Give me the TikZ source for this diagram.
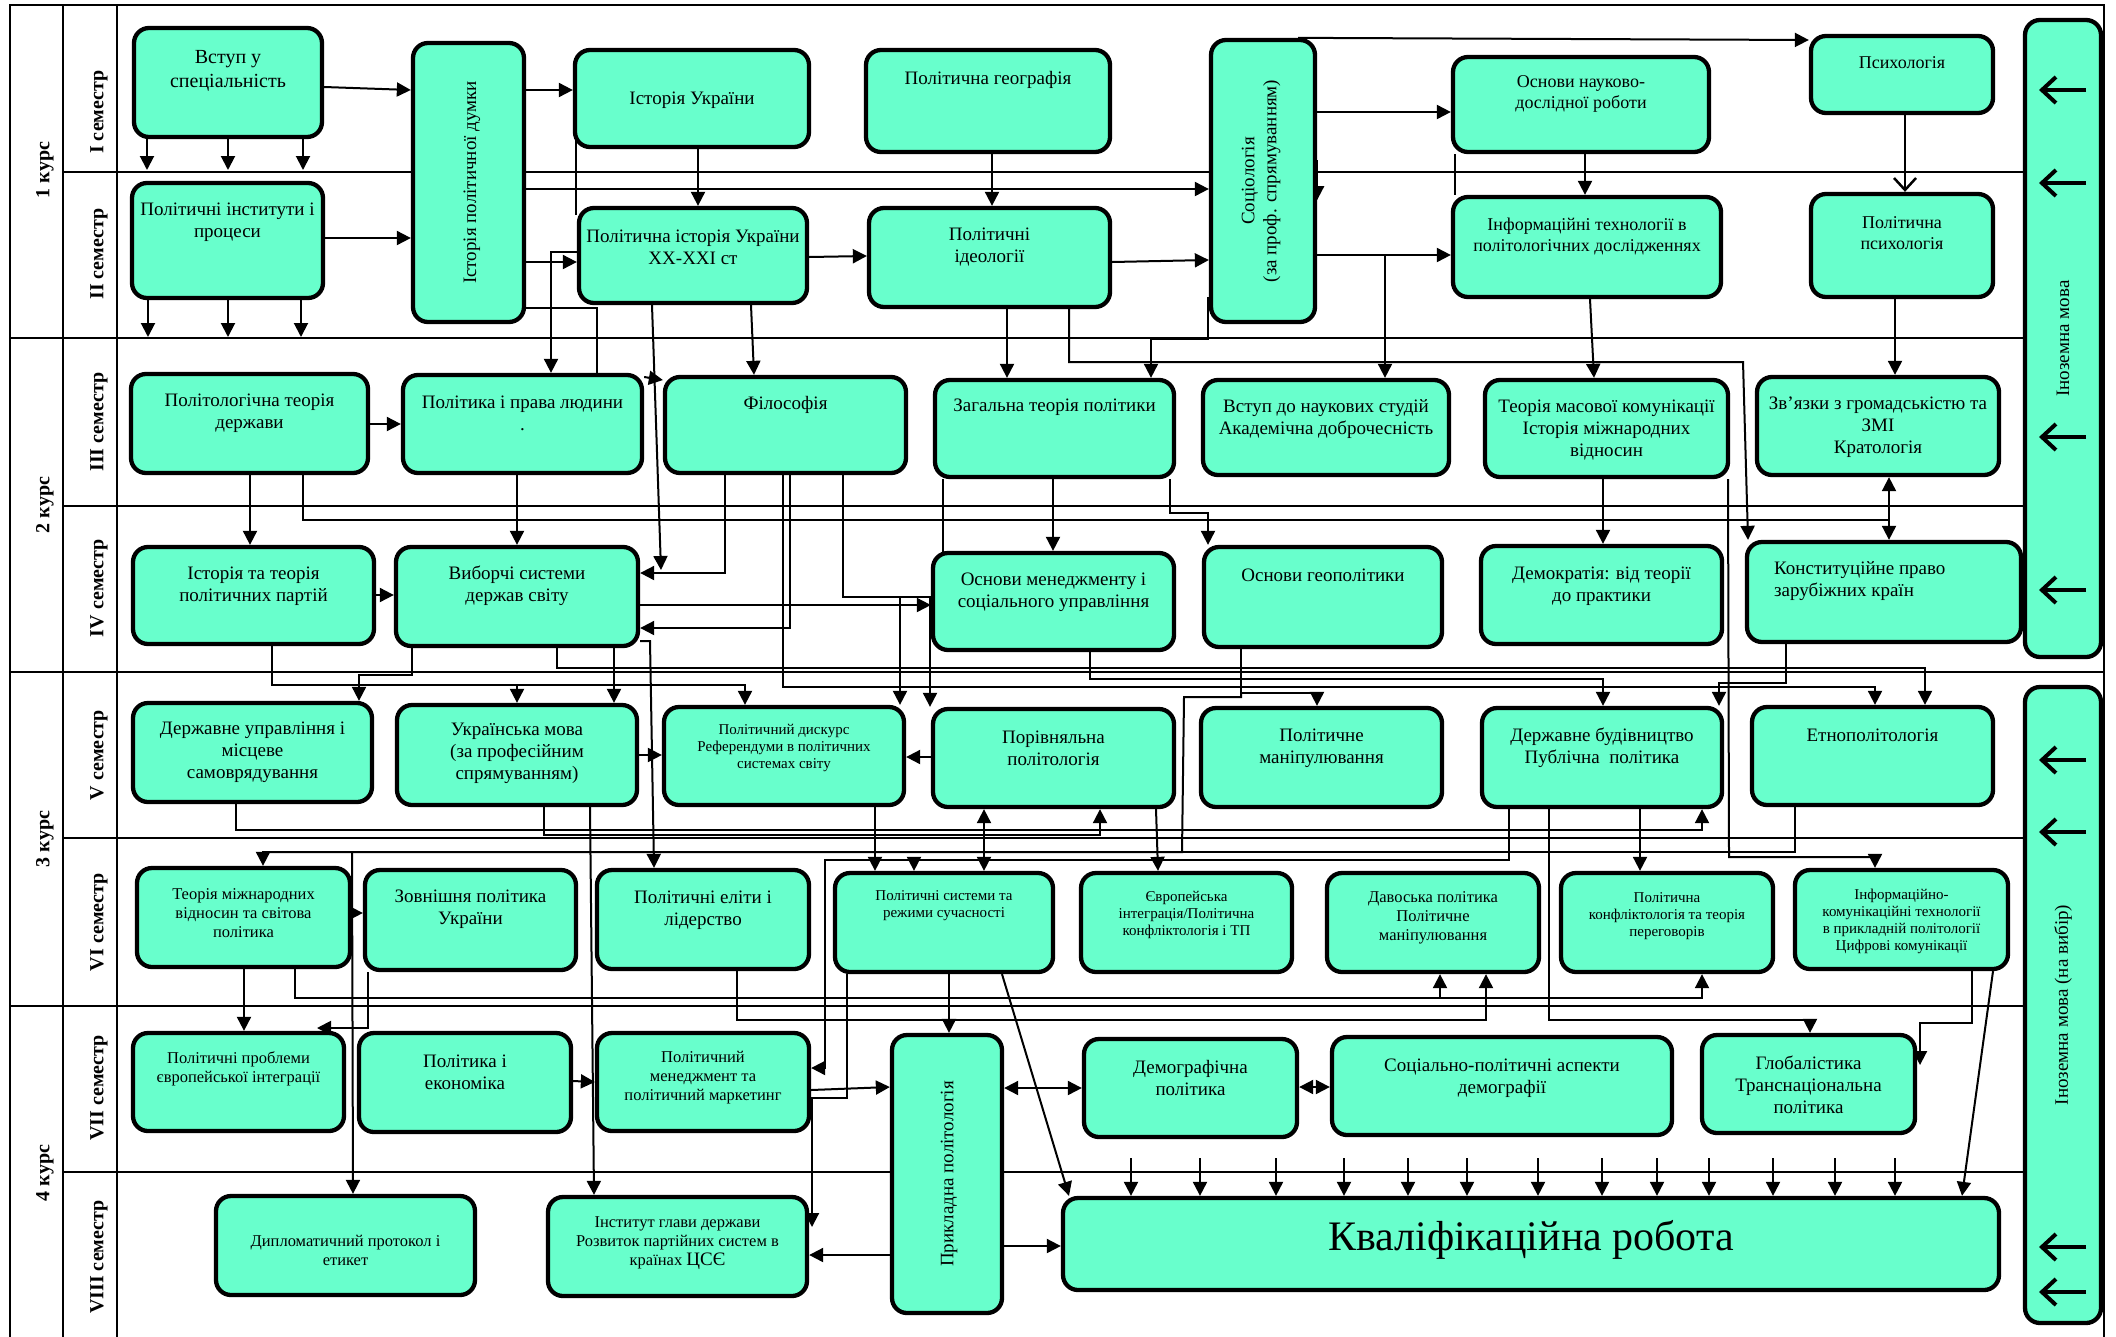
\documentclass[tikz,border=0pt]{standalone}
\usepackage{fontspec}
\setmainfont{Liberation Serif}
\usetikzlibrary{arrows.meta}
\pgfdeclarelayer{bg}
\pgfsetlayers{bg,main}
\definecolor{boxfill}{RGB}{104,255,204}
\newcommand\fA{\fontsize{20}{24}\selectfont}
\newcommand\fB{\fontsize{19}{22}\selectfont}
\newcommand\fD{\fontsize{18}{21}\selectfont}
\newcommand\fC{\fontsize{16.5}{19}\selectfont}
\newcommand\fS{\fontsize{15}{17}\selectfont}
\newcommand\fK{\fontsize{42}{48}\selectfont}
\newcommand\fL{\fontsize{20}{24}\selectfont\bfseries}
\newcommand\bx[8]{%
 \node[box,minimum width={#4-#2},minimum height={#5-#3}] (#1) at ({(#2+#4)/2},{(#3+#5)/2}) {};
 \node[txt,font=#7] (#1-t) at ({(#2+#4)/2},#6) {#8};}
\newcommand\bxr[8]{%
 \node[box,minimum width={#4-#2},minimum height={#5-#3}] (#1) at ({(#2+#4)/2},{(#3+#5)/2}) {};
 \node[txt,font=#7,rotate=90] (#1-t) at (#6,{(#3+#5)/2}) {#8};}
\tikzset{
 box/.style={draw=black,line width=4.3pt,fill=boxfill,rounded corners=15pt,inner sep=0pt},
 txt/.style={align=center,inner sep=0pt},
 ln/.style={line width=2pt},
 arr/.style={line width=2pt,-{Triangle[length=14pt,width=14pt]}},
 darr/.style={line width=2pt,{Triangle[length=14pt,width=14pt]}-{Triangle[length=14pt,width=14pt]}},
 oarr/.style={line width=2.5pt,-{Straight Barb[length=12pt,width=22pt]}},
 barr/.style={line width=4pt,-{Straight Barb[length=14pt,width=26pt]}},
 frame/.style={line width=2pt},
 lab/.style={font=\fL,inner sep=0pt,rotate=90}
}
\begin{document}
\begin{tikzpicture}[x=1pt,y=-1pt]
\useasboundingbox (0,0) rectangle (2116,1336);
\clip (0,0) rectangle (2116,1336);
% ---------- boxes ----------
\bx{vst}{134}{28}{322}{137}{71}{\fA}{Вступ у\\спеціальність}
\bx{pip}{132}{183}{323}{298}{222}{\fB}{Політичні інститути і\\процеси}
\bxr{ipd}{413}{43}{524}{322}{472}{\fB}{Історія політичної думки}
\bx{iu}{575}{50}{809}{147}{100}{\fB}{Історія України}
\bx{pg}{866}{50}{1110}{152}{80}{\fB}{Політична географія}
\bx{pis}{579}{208}{807}{303}{247}{\fB}{Політична історія України\\XX-XXI ст}
\bx{pid}{869}{208}{1110}{307}{247}{\fB}{Політичні\\ідеології}
\bxr{soc}{1211}{40}{1315}{322}{1261}{\fB}{Соціологія\\(за проф. спрямуванням)}
\bx{ondr}{1453}{57}{1709}{152}{94}{\fD}{Основи науково-\\дослідної роботи}
\bx{it}{1453}{197}{1721}{297}{236}{\fD}{Інформаційні технології в\\політологічних дослідженнях}
\bx{psy}{1811}{36}{1993}{113}{63}{\fD}{Психологія}
\bx{ppsy}{1811}{194}{1993}{297}{233}{\fD}{Політична\\психологія}
\bx{ptd}{131}{374}{368}{473}{413}{\fB}{Політологічна теорія\\держави}
\bx{ppl}{403}{375}{642}{473}{413}{\fB}{Політика і права людини\\.}
\bx{fil}{665}{377}{906}{473}{405}{\fB}{Філософія}
\bx{ztp}{935}{380}{1174}{477}{407}{\fB}{Загальна теорія політики}
\bx{vns}{1203}{380}{1449}{475}{419}{\fB}{Вступ до наукових студій\\Академічна доброчесність}
\bx{tmk}{1485}{380}{1728}{477}{430}{\fB}{Теорія масової комунікації\\Історія міжнародних\\відносин}
\bx{zvz}{1757}{377}{1999}{475}{427}{\fB}{Зв’язки з громадськістю та\\ЗМІ\\Кратологія}
\bx{itp}{133}{547}{374}{644}{586}{\fB}{Історія та теорія\\політичних партій}
\bx{vsd}{396}{547}{638}{646}{586}{\fB}{Виборчі системи\\держав світу}
\bx{omsu}{933}{553}{1174}{650}{592}{\fB}{Основи менеджменту і\\соціального управління}
\bx{ogp}{1204}{547}{1442}{647}{575}{\fB}{Основи геополітики}
\bx{dem}{1481}{546}{1722}{644}{586}{\fB}{Демократія: від теорії\\до практики}
\node[box,minimum width=274,minimum height=100] (kpz) at (1884,592) {};
\node[txt,align=left,anchor=west,font=\fB] (kpz-t) at (1774,581) {Конституційне право\\зарубіжних країн};
\bxr{inm1}{2025}{20}{2101}{657}{2063}{\fB}{Іноземна мова}
\bx{dums}{133}{703}{372}{802}{752}{\fB}{Державне управління і\\місцеве\\самоврядування}
\bx{umova}{397}{705}{637}{805}{753}{\fB}{Українська мова\\(за професійним\\спрямуванням)}
\bx{pdr}{664}{707}{904}{805}{748}{\fS}{Політичний дискурс\\Референдуми в політичних\\системах світу}
\bx{porp}{933}{709}{1174}{807}{748}{\fB}{Порівняльна\\політологія}
\bx{pman}{1201}{708}{1442}{807}{748}{\fB}{Політичне\\маніпулювання}
\bx{dbud}{1482}{708}{1722}{807}{748}{\fB}{Державне будівництво\\Публічна\ \ політика}
\bx{etn}{1752}{707}{1993}{805}{735}{\fB}{Етнополітологія}
\bxr{inm2}{2025}{687}{2101}{1323}{2063}{\fB}{Іноземна мова (на вибір)}
\bx{tmv}{137}{868}{350}{967}{913}{\fC}{Теорія міжнародних\\відносин та світова\\політика}
\bx{zpu}{365}{870}{576}{970}{909}{\fB}{Зовнішня політика\\України}
\bx{pel}{597}{870}{809}{969}{910}{\fB}{Політичні еліти і\\лідерство}
\bx{psr}{835}{873}{1053}{972}{906}{\fS}{Політичні системи та\\режими сучасності}
\bx{eip}{1081}{873}{1292}{972}{915}{\fS}{Європейська\\інтеграція/Політична\\конфліктологія і ТП}
\bx{dav}{1327}{873}{1539}{972}{918}{\fC}{Давоська політика\\Політичне\\маніпулювання}
\bx{pkt}{1561}{873}{1773}{972}{916}{\fS}{Політична\\конфліктологія та теорія\\переговорів}
\bx{ikt}{1795}{870}{2008}{969}{921}{\fS}{Інформаційно-\\комунікаційні технології\\в прикладній політології\\Цифрові комунікації}
\bx{ppei}{133}{1033}{344}{1131}{1069}{\fC}{Політичні проблеми\\європейської інтеграції}
\bx{pek}{359}{1033}{571}{1132}{1072}{\fB}{Політика і\\економіка}
\bx{pmm}{597}{1033}{809}{1131}{1078}{\fC}{Політичний\\менеджмент та\\політичний маркетинг}
\bxr{prp}{892}{1035}{1002}{1313}{949}{\fB}{Прикладна політологія}
\bx{dpol}{1084}{1039}{1297}{1137}{1078}{\fB}{Демографічна\\політика}
\bx{spad}{1332}{1037}{1672}{1135}{1078}{\fB}{Соціально-політичні аспекти\\демографії}
\bx{glob}{1702}{1035}{1915}{1133}{1085}{\fB}{Глобалістика\\Транснаціональна\\політика}
\bx{dpe}{216}{1196}{475}{1295}{1250}{\fC}{Дипломатичний протокол і\\етикет}
\bx{igd}{548}{1197}{807}{1296}{1243}{\fC}{Інститут глави держави\\Розвиток партійних систем в\\країнах {\fB ЦСЄ}}
\bx{kval}{1063}{1198}{1999}{1290}{1240}{\fK}{Кваліфікаційна робота}
% ---------- labels ----------
\node[lab] (k1) at (45,170) {1 курс};
\node[lab] (k2) at (45,505) {2 курс};
\node[lab] (k3) at (45,839) {3 курс};
\node[lab] (k4) at (45,1173) {4 курс};
\node[lab] (s1) at (99,112) {I семестр};
\node[lab] (s2) at (99,254) {II семестр};
\node[lab] (s3) at (99,422) {III семестр};
\node[lab] (s4) at (99,588) {IV семестр};
\node[lab] (s5) at (99,755) {V семестр};
\node[lab] (s6) at (99,922) {VI семестр};
\node[lab] (s7) at (99,1088) {VII семестр};
\node[lab] (s8) at (99,1257) {VIII семестр};
% ---------- foreign language arrows ----------
\foreach \y in {90,183,437,590,760,832,1247,1292} \draw[barr] (2086,\y) -- (2039,\y);
% ---------- background: grid and connectors ----------
\begin{pgfonlayer}{bg}
\draw[frame] (10,5) rectangle (2104,1345);
\draw[frame] (63,5) -- (63,1345) (117,5) -- (117,1345);
\foreach \y in {338,672,1006} \draw[frame] (10,\y) -- (2104,\y);
\foreach \y in {172,506,838,1172} \draw[frame] (63,\y) -- (2104,\y);
% I-II
\draw[arr] (vst.east |- 0,87) -- (ipd.west |- 0,90);
\foreach \x in {147,228,303} \draw[arr] (vst.south -| \x,0) -- (\x,170);
\draw[arr] (pip.east |- 0,238) -- (ipd.west |- 0,238);
\foreach \x in {148,228,301} \draw[arr] (pip.south -| \x,0) -- (\x,337);
\draw[arr] (ipd.east |- 0,90) -- (iu.west |- 0,90);
\draw[arr] (ipd.east |- 0,189) -- (soc.west |- 0,189);
\draw[arr] (ipd.east |- 0,262) -- (pis.west |- 0,262);
\draw[arr] (pis.west |- 0,252) -- (551,252) -- (ppl.north -| 551,0);
\draw[ln] (ipd.east |- 0,308) -- (597,308) -- (ppl.north -| 597,0);
\draw[arr] (ppl.east |- 0,377) -- (fil.west |- 0,380);
\draw[ln] (576,140) -- (576,215);
\draw[arr] (iu.south -| 698,0) -- (pis.north -| 698,0);
\draw[arr] (pg.south -| 992,0) -- (pid.north -| 992,0);
\draw[arr] (pis.east |- 0,257) -- (pid.west |- 0,256);
\draw[arr] (pid.east |- 0,262) -- (soc.west |- 0,260);
\draw[arr] (pid.south -| 1069,0) -- (1069,362) -- (1743,362) -- (kpz.north -| 1748,0);
\draw[arr] (pis.south -| 652,0) -- (661,570);
\draw[arr] (pis.south -| 751,0) -- (fil.north -| 754,0);
\draw[arr] (pid.south -| 1007,0) -- (ztp.north -| 1007,0);
\draw[arr] (soc.north -| 1298,0) -- (psy.west |- 0,40);
\draw[arr] (soc.east |- 0,112) -- (ondr.west |- 0,112);
\draw[arr] (soc.east |- 0,160) -- (soc.east |- 0,200);
\draw[arr] (soc.east |- 0,255) -- (it.west |- 0,255);
\draw[arr] (1385,255) -- (vns.north -| 1385,0);
\draw[arr] (1208,297) -- (1208,339) -- (1151,339) -- (ztp.north -| 1151,0);
\draw[arr] (ondr.south -| 1585,0) -- (it.north -| 1585,0);
\draw[ln] (ondr.south -| 1455,0) -- (it.north -| 1455,0);
\draw[oarr] (psy.south -| 1905,0) -- (ppsy.north -| 1905,0);
\draw[arr] (ppsy.south -| 1895,0) -- (zvz.north -| 1895,0);
\draw[arr] (it.south -| 1590,0) -- (tmk.north -| 1594,0);
% III-IV
\draw[arr] (ptd.east |- 0,424) -- (ppl.west |- 0,424);
\draw[arr] (ptd.south -| 250,0) -- (itp.north -| 250,0);
\draw[arr] (ptd.south -| 303,0) |- (1889,520) -- (kpz.north -| 1889,0);
\draw[arr] (1889,520) -- (zvz.south -| 1889,0);
\draw[arr] (ppl.south -| 517,0) -- (vsd.north -| 517,0);
\draw[arr] (itp.east |- 0,595) -- (vsd.west |- 0,595);
\draw[arr] (fil.south -| 725,0) |- (vsd.east |- 0,573);
\draw[arr] (fil.south -| 790,0) |- (vsd.east |- 0,628);
\draw[arr] (fil.south -| 783,0) -- (783,687) -- (1875,687) -- (etn.north -| 1875,0);
\draw[ln] (ztp.south -| 943,0) |- (843,597) -- (fil.south -| 843,0);
\draw[arr] (900,597) -- (pdr.north -| 900,0);
\draw[arr] (930,597) -- (porp.north -| 930,0);
\draw[arr] (vsd.east |- 0,605) -- (omsu.west |- 0,605);
\draw[arr] (ztp.south -| 1053,0) -- (omsu.north -| 1053,0);
\draw[arr] (ztp.south -| 1170,0) -- (1170,513) -- (1208,513) -- (ogp.north -| 1208,0);
\draw[arr] (tmk.south -| 1603,0) -- (dem.north -| 1603,0);
\draw[arr] (tmk.south -| 1728,0) -- (1729,857) -- (1875,857) -- (ikt.north -| 1875,0);
\draw[arr] (kpz.south -| 1786,0) -- (1786,683) -- (1719,683) -- (dbud.north -| 1719,0);
\draw[arr] (vsd.south -| 557,0) -- (557,668) -- (1925,668) -- (etn.north -| 1925,0);
\draw[arr] (vsd.south -| 412,0) -- (412,675) -- (359,675) -- (dums.north -| 359,0);
\draw[arr] (itp.south -| 272,0) -- (272,685) -- (745,685) -- (pdr.north -| 745,0);
\draw[arr] (517,685) -- (umova.north -| 517,0);
\draw[arr] (vsd.south -| 614,0) -- (umova.north -| 614,0);
\draw[arr] (vsd.east |- 0,641) -- (650,641) -- (pel.north -| 654,0);
% V-VI
\draw[arr] (umova.east |- 0,755) -- (pdr.west |- 0,755);
\draw[arr] (porp.west |- 0,757) -- (pdr.east |- 0,757);
\draw[arr] (pdr.south -| 875,0) -- (psr.north -| 875,0);
\draw[darr] (porp.south -| 984,0) -- (psr.north -| 984,0);
\draw[arr] (omsu.south -| 1090,0) -- (1090,679) -- (1603,679) -- (dbud.north -| 1603,0);
\draw[arr] (ogp.south -| 1241,0) -- (1241,693) -- (1317,693) -- (pman.north -| 1317,0);
\draw[arr] (1241,693) -- (1241,697) -- (1184,697) -- (1182,852) -- (263,852) -- (tmv.north -| 263,0);
\draw[ln] (etn.south -| 1795,0) -- (1795,852) -- (1182,852);
\draw[arr] (porp.south -| 1156,0) -- (eip.north -| 1158,0);
\draw[arr] (dums.south -| 236,0) -- (236,830) -- (1702,830) -- (dbud.south -| 1702,0);
\draw[arr] (umova.south -| 544,0) -- (544,835) -- (1100,835) -- (porp.south -| 1100,0);
\draw[arr] (dbud.south -| 1509,0) -- (1509,860) -- (825,860) -- (825,1068) -- (pmm.east |- 0,1068);
\draw[arr] (914,860) -- (psr.north -| 914,0);
\draw[arr] (dbud.south -| 1640,0) -- (pkt.north -| 1640,0);
\draw[arr] (dbud.south -| 1549,0) -- (1549,1020) -- (1810,1020) -- (glob.north -| 1810,0);
% VI-VIII
\draw[arr] (tmv.east |- 0,913) -- (zpu.west |- 0,913);
\draw[arr] (352,852) -- (dpe.north -| 353,0);
\draw[arr] (tmv.south -| 244,0) -- (ppei.north -| 244,0);
\draw[arr] (tmv.south -| 295,0) -- (295,998) -- (1702,998) -- (pkt.south -| 1702,0);
\draw[arr] (1440,998) -- (dav.south -| 1440,0);
\draw[arr] (zpu.south -| 368,0) -- (368,1028) -- (317,1028);
\draw[arr] (pel.south -| 737,0) -- (737,1020) -- (1486,1020) -- (dav.south -| 1486,0);
\draw[arr] (psr.south -| 847,0) -- (847,1098) -- (812,1098) -- (812,1227);
\draw[arr] (pmm.east |- 0,1090) -- (prp.west |- 0,1087);
\draw[arr] (psr.south -| 949,0) -- (prp.north -| 949,0);
\draw[arr] (psr.south -| 1002,0) -- (kval.north -| 1069,0);
\draw[darr] (prp.east |- 0,1088) -- (dpol.west |- 0,1088);
\draw[darr] (dpol.east |- 0,1087) -- (spad.west |- 0,1087);
\draw[arr] (prp.east |- 0,1246) -- (kval.west |- 0,1246);
\draw[arr] (prp.west |- 0,1255) -- (igd.east |- 0,1255);
\draw[arr] (pek.east |- 0,1081) -- (pmm.west |- 0,1082);
\draw[arr] (umova.south -| 590,0) -- (igd.north -| 594,0);
\draw[arr] (ikt.south -| 1972,0) -- (1972,1023) -- (1920,1023) -- (1920,1065);
\draw[arr] (ikt.south -| 1993,0) -- (kval.north -| 1962,0);
\foreach \x in {1131,1200,1276,1344,1408,1467,1538,1602,1657,1709,1773,1835,1895}
  \draw[arr] (\x,1158) -- (kval.north -| \x,0);
\end{pgfonlayer}
\end{tikzpicture}
\end{document}
